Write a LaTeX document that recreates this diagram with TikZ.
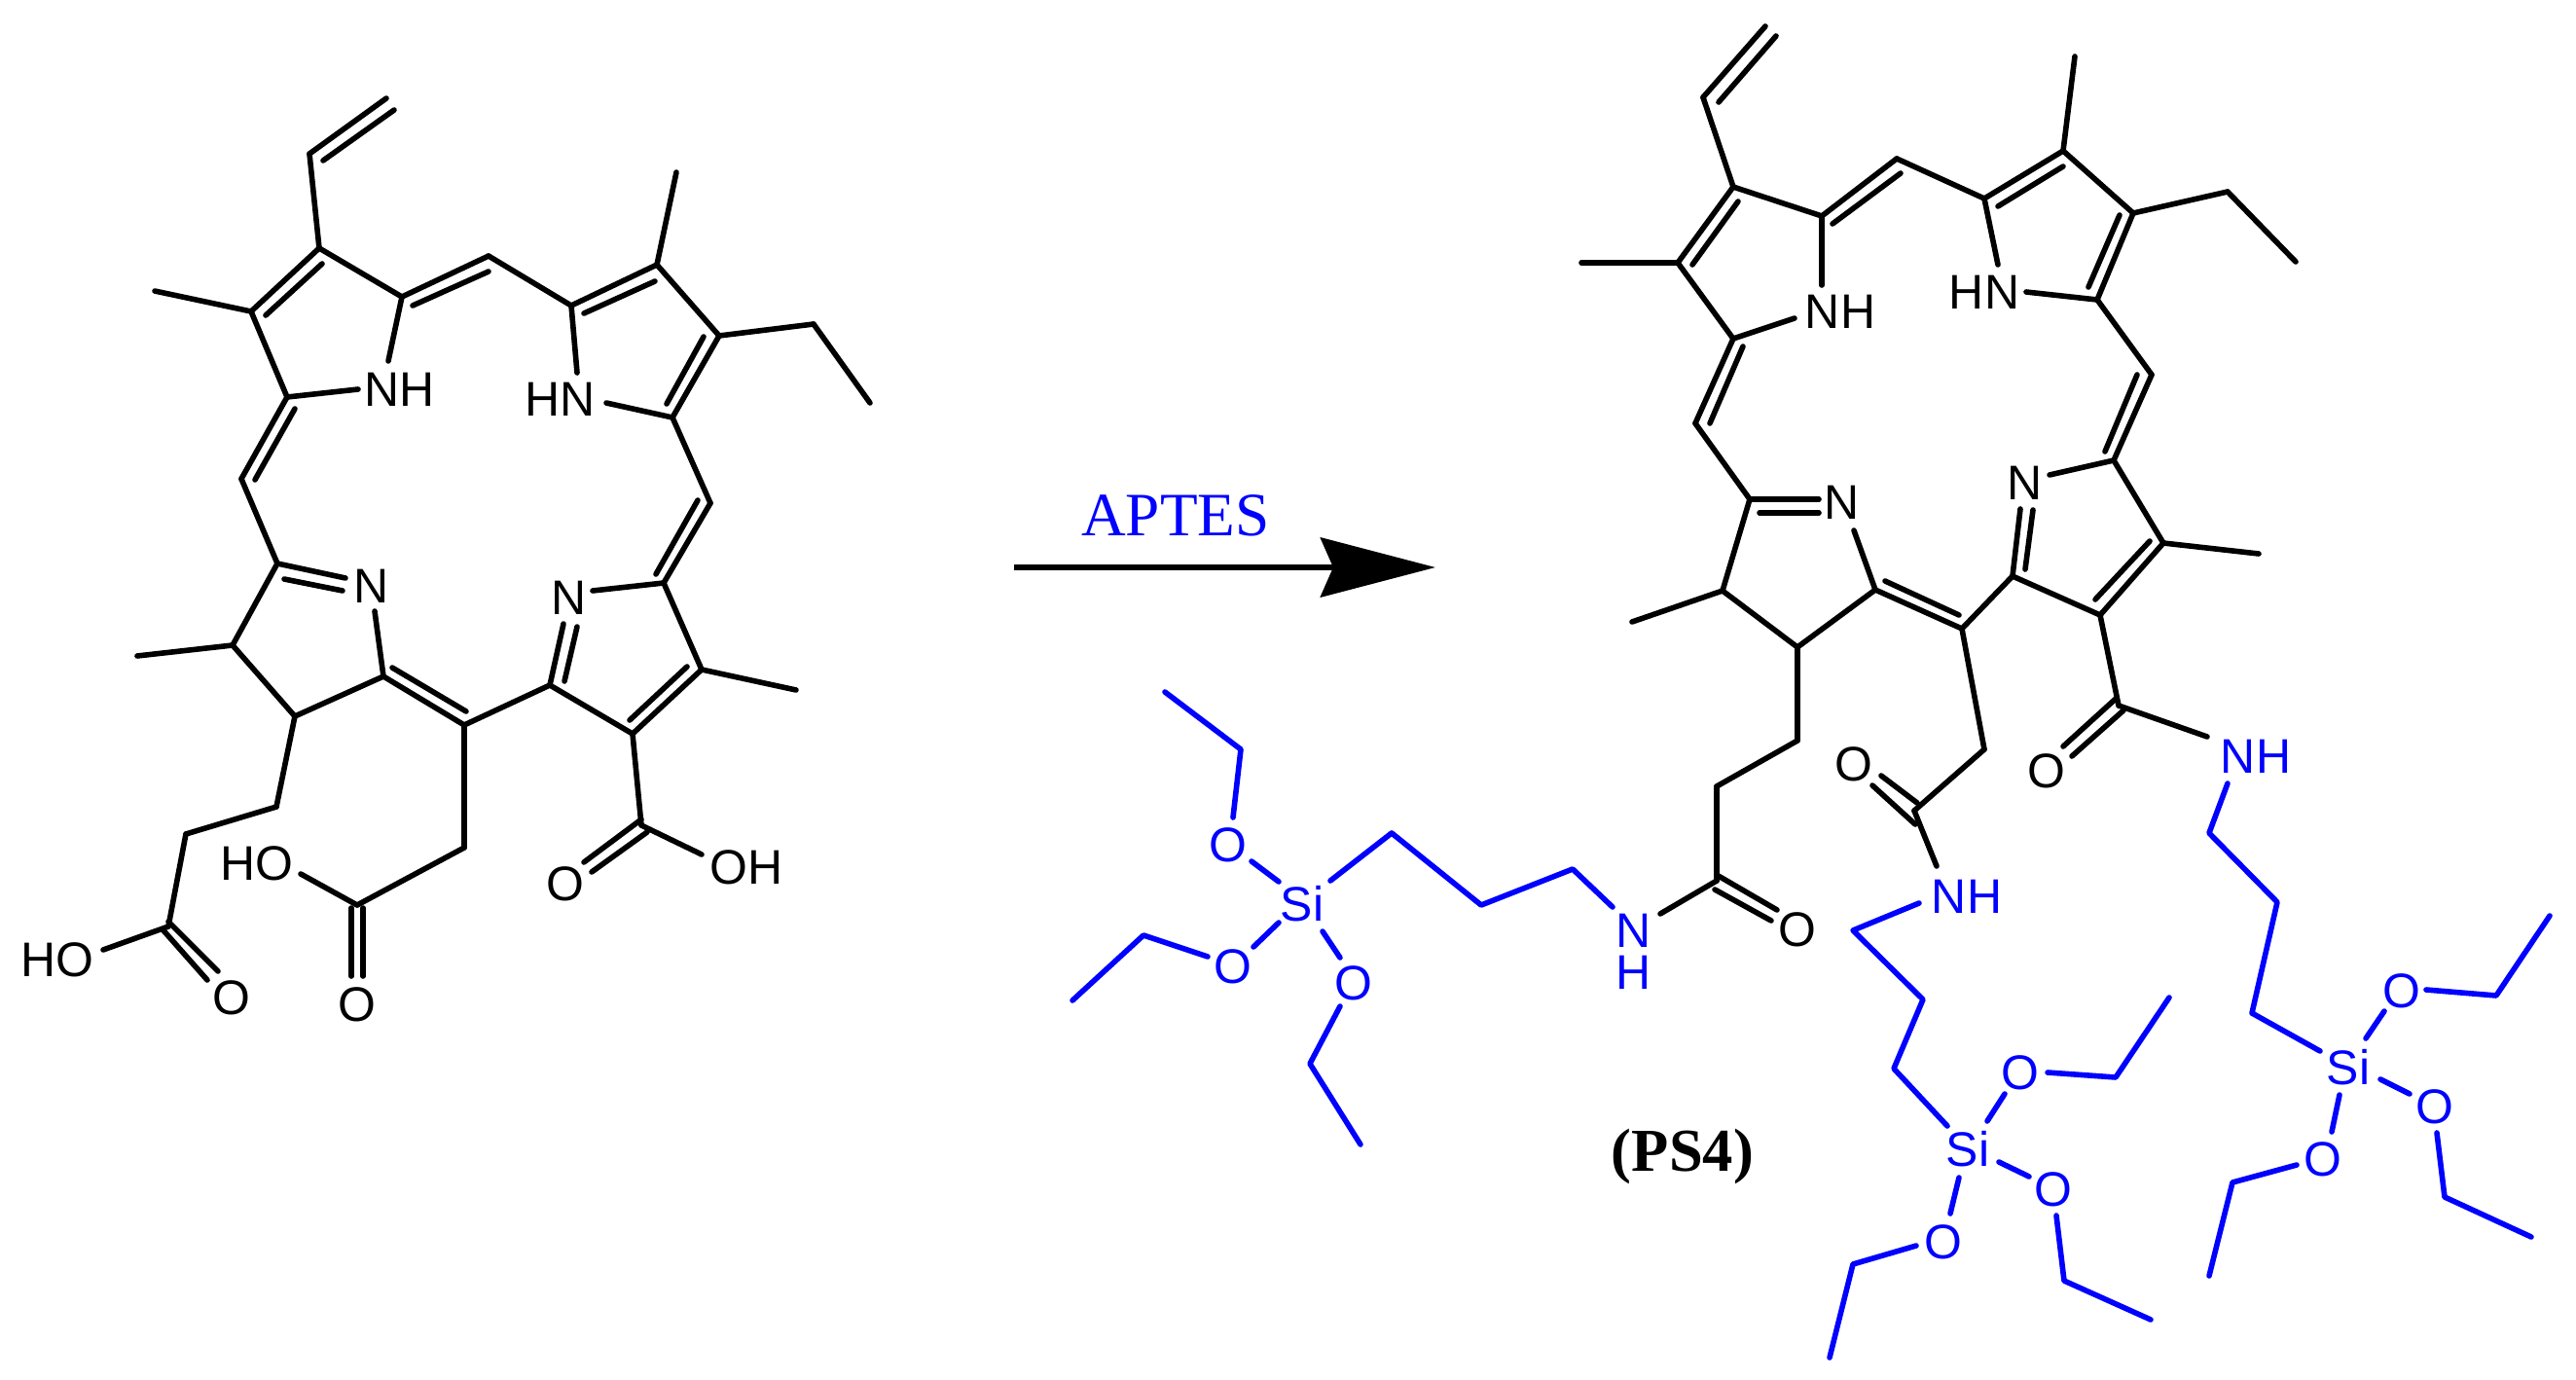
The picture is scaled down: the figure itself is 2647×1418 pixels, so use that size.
\documentclass[tikz,border=0pt]{standalone}
\usepackage{fontspec}
\setmainfont{Liberation Serif}
\setsansfont{Liberation Sans}
\usetikzlibrary{arrows.meta}

\tikzset{
  bond/.style={line width=0.056cm,line cap=round,line join=round,color=black},
  bluebond/.style={bond,color=blue},
  atom/.style={inner sep=0pt,font=\sffamily\fontsize{14.2}{17}\selectfont},
  blueatom/.style={atom,color=blue},
  caption/.style={inner sep=0pt,font=\rmfamily\fontsize{18}{20}\selectfont},
}

\begin{document}
\begin{tikzpicture}[x=0.01cm,y=-0.01cm]
\useasboundingbox (0,0) rectangle (2647,1418);

% left molecule
\foreach \n/\x/\y in {lv2/397/101,lv1/318/158,la1/328/255,la2/413/305,la3/295/408,la4/258/320,lma/159/299,
  lmt/502/263,lb1/587/314,lb2/675/272,lb3/739/345,lb4/691/429,lmb/695/177,let1/836/333,let2/894/414,
  lml/248/492,lmr/730/517,lc1/285/579,lc2/239/663,lc3/303/736,lc4/394/695,lc5/477/745,lmc/141/674,
  ld1/682/599,ld2/565/704,ld3/650/754,ld4/721/688,lmd/818/709,
  lxa/399/371,lxb/368/400,lxc/593/383,lxd/623/414,lxe/355/594,lxf/385/628,lxg/609/607,lxh/579/641,
  lk1/659/848,lko/721/878,lp1/477/871,lp2/367/930,lpo/309/898,lq1/284/829,lq2/191/857,lq3/173/952,lqo/106/976}
  \coordinate (\n) at (\x,\y);

\foreach \a/\b in {lv2/lv1,lv1/la1,la1/la2,la2/lxa,la3/lxb,la3/la4,la4/la1,la4/lma,la2/lmt,lmt/lb1,lb1/lb2,lb1/lxc,
  lb2/lb3,lb2/lmb,lb3/lb4,lb3/let1,let1/let2,lb4/lxd,la3/lml,lml/lc1,lc1/lxe,lc1/lc2,lc2/lmc,lc2/lc3,
  lc3/lc4,lc4/lxf,lc4/lc5,lc5/ld2,ld2/lxh,ld2/ld3,ld3/ld4,ld4/ld1,ld1/lxg,ld4/lmd,ld1/lmr,lmr/lb4,
  ld3/lk1,lk1/lko,lc5/lp1,lp1/lp2,lp2/lpo,lc3/lq1,lq1/lq2,lq2/lq3,lq3/lqo}
  \draw[bond] (\a) -- (\b);

% second lines of the double bonds
\foreach \n/\xa/\ya/\xb/\yb in {li2/405/113/332/165,li3/273/324/331/271,li4/424/314/502/279,
  li7/600/322/673/289,li8/723/346/685/415,li9/303/420/262/493,
  li10/717/514/674/590,li11/292/595/352/607,li12/403/686/479/731,li13/593/644/580/700,li14/647/740/706/685,
  li15/659/842/600/886,li16/665/855/608/896,li17/361/933/361/1003,li18/373/933/373/1003,
  li19/173/947/224/998,li20/167/955/213/1007}
  {\coordinate (\n a) at (\xa,\ya);
   \coordinate (\n b) at (\xb,\yb);
   \draw[bond] (\n a) -- (\n b);}

\node[atom] (lnh) at (411,400) {NH};
\node[atom] (lhn) at (576,410) {HN};
\node[atom] (ln1) at (382,602) {N};
\node[atom] (ln2) at (585,614) {N};
\node[atom] (lo1) at (581,908) {O};
\node[atom] (loh1) at (767,891) {OH};
\node[atom] (lho1) at (264,887) {HO};
\node[atom] (lo2) at (367,1032) {O};
\node[atom] (lho2) at (59,986) {HO};
\node[atom] (lo3) at (238,1025) {O};

% arrow
\coordinate (arrowa) at (1042,583);
\coordinate (arrowb) at (1475,583);
\draw[line width=0.065cm,-{Stealth[length=1.18cm,width=0.61cm,inset=0.13cm]}] (arrowa) -- (arrowb);
\node[caption,color=blue] (aptes) at (1208,530) {APTES};

% right molecule
\foreach \n/\x/\y in {rv2/1814/27,rv1/1750/100,re1/1781/192,re2/1872/222,re3/1781/348,re4/1724/270,rme/1625/270,
  rmt/1949/163,rf1/2039/204,rf2/2120/155,rf3/2192/219,rf4/2155/308,rmf/2132/58,ret1/2289/197,ret2/2359/269,
  rml/1742/435,rmr/2211/385,rg1/1798/513,rg2/1770/607,rg3/1847/665,rg4/1927/606,rg5/2016/646,rmg/1677/639,
  rh1/2172/473,rh2/2068/592,rh3/2158/632,rh4/2223/558,rmh/2321/569,
  rk1/2177/725,rkn/2268/757,rp1/2039/770,rp2/1967/833,rpn/1990/890,rq1/1847/761,rq2/1764/808,rq3/1764/905,rqn/1706/939,
  rxa/1872/293,rxb/1844/327,rxc/2053/272,rxd/2082/300,rxe/1869/513,rxf/1905/545,rxg/2106/488,rxh/2076/523}
  \coordinate (\n) at (\x,\y);

\foreach \a/\b in {rv2/rv1,rv1/re1,re1/re2,re2/rxa,re3/rxb,re3/re4,re4/re1,re4/rme,re2/rmt,rmt/rf1,rf1/rf2,rf1/rxc,
  rf2/rf3,rf2/rmf,rf3/rf4,rf3/ret1,ret1/ret2,rf4/rxd,re3/rml,rml/rg1,rg1/rxe,rg1/rg2,rg2/rmg,rg2/rg3,
  rg3/rg4,rg4/rxf,rg4/rg5,rg5/rh2,rh2/rxh,rh2/rh3,rh3/rh4,rh4/rh1,rh1/rxg,rh4/rmh,rh1/rmr,rmr/rf4,
  rh3/rk1,rk1/rkn,rg5/rp1,rp1/rp2,rp2/rpn,rg3/rq1,rq1/rq2,rq2/rq3,rq3/rqn}
  \draw[bond] (\a) -- (\b);

\foreach \n/\xa/\ya/\xb/\yb in {ri2/1825/37/1766/105,ri3/1739/272/1786/207,ri4/1883/230/1953/178,
  ri7/2053/212/2120/171,ri8/2178/221/2146/295,ri9/1791/356/1757/435,
  ri10/2196/385/2163/464,ri11/1808/527/1869/527,ri12/1937/597/2013/632,ri13/2089/524/2081/585,ri14/2153/616/2209/556,
  ri15/2174/718/2120/767,ri16/2182/730/2129/777,ri17/1933/797/1970/825,ri18/1924/807/1968/847,
  ri19/1764/899/1826/935,ri20/1762/914/1820/946}
  {\coordinate (\n a) at (\xa,\ya);
   \coordinate (\n b) at (\xb,\yb);
   \draw[bond] (\n a) -- (\n b);}

\node[atom] (rnh) at (1891,320) {NH};
\node[atom] (rhn) at (2039,300) {HN};
\node[atom] (rn1) at (1893,516) {N};
\node[atom] (rn2) at (2081,496) {N};
\node[atom] (ro1) at (2103,792) {O};
\node[atom] (ro2) at (1905,785) {O};
\node[atom] (ro3) at (1847,955) {O};

% blue chains
\foreach \n/\x/\y in {sa1/1657/932,sa2/1616/893,sa3/1522/930,sa4/1430/856,sa5/1367/905,
  sa6/1314/906,sa7/1286/885,sa8/1267/840,sa9/1275/770,sa10/1197/711,
  sa11/1314/948,sa12/1288/973,sa13/1241/983,sa14/1175/961,sa15/1102/1028,
  sa16/1359/957,sa17/1377/984,sa18/1377/1034,sa19/1346/1093,sa20/1398/1176,
  sb1/1972/928,sb2/1904/956,sb3/1976/1027,sb4/1946/1098,sb5/2001/1157,
  sb6/2042/1152,sb7/2060/1124,sb8/2104/1102,sb9/2174/1107,sb10/2229/1025,
  sb11/2054/1194,sb12/2085/1209,sb13/2113/1249,sb14/2121/1316,sb15/2210/1356,
  sb16/2013/1210,sb17/2004/1247,sb18/1969/1280,sb19/1904/1299,sb20/1880/1395,
  sc1/2289/805,sc2/2270/856,sc3/2340/927,sc4/2314/1041,sc5/2384/1080,
  sc6/2431/1067,sc7/2450/1039,sc8/2493/1017,sc9/2565/1023,sc10/2620/941,
  sc11/2446/1109,sc12/2476/1124,sc13/2504/1164,sc14/2512/1230,sc15/2601/1271,
  sc16/2404/1125,sc17/2396/1163,sc18/2360/1197,sc19/2294/1215,sc20/2270/1311}
  \coordinate (\n) at (\x,\y);

\foreach \s in {sa,sb,sc} {
  \draw[bluebond] (\s1) -- (\s2) -- (\s3) -- (\s4) -- (\s5);
  \draw[bluebond] (\s6) -- (\s7);
  \draw[bluebond] (\s8) -- (\s9) -- (\s10);
  \draw[bluebond] (\s11) -- (\s12);
  \draw[bluebond] (\s13) -- (\s14) -- (\s15);
  \draw[bluebond] (\s16) -- (\s17);
  \draw[bluebond] (\s18) -- (\s19) -- (\s20);
}

\node[blueatom] (na) at (1679,956) {N};
\node[blueatom] (ha) at (1679,999) {H};
\node[blueatom] (nhb) at (2021,921) {NH};
\node[blueatom] (nhc) at (2318,777) {NH};
\node[blueatom] (sia) at (1338,929) {Si};
\node[blueatom] (sib) at (2022,1181) {Si};
\node[blueatom] (sic) at (2413,1097) {Si};
\node[blueatom] (oa1) at (1262,868) {O};
\node[blueatom] (oa2) at (1267,993) {O};
\node[blueatom] (oa3) at (1391,1010) {O};
\node[blueatom] (ob1) at (2076,1102) {O};
\node[blueatom] (ob2) at (2110,1222) {O};
\node[blueatom] (ob3) at (1997,1276) {O};
\node[blueatom] (oc1) at (2468,1018) {O};
\node[blueatom] (oc2) at (2502,1137) {O};
\node[blueatom] (oc3) at (2387,1191) {O};

\node[caption] (ps) at (1729,1188) {\bfseries\fontsize{17.8}{20}\selectfont (PS4)};

\end{tikzpicture}
\end{document}
